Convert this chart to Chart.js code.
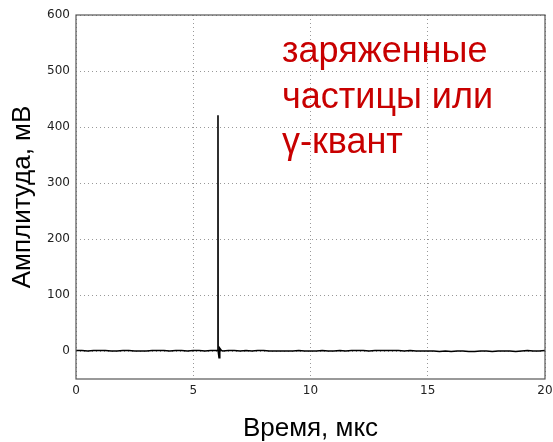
<!DOCTYPE html>
<html lang="ru">
<head>
<meta charset="utf-8">
<title>Амплитуда сигнала</title>
<script src="https://cdn.jsdelivr.net/npm/chart.js@4/dist/chart.umd.min.js"></script>
<style>
  html, body { margin: 0; padding: 0; background: #fff; }
  #wrap { position: relative; width: 553px; height: 442px; }
</style>
</head>
<body>
<div id="wrap"><canvas id="pulse"></canvas></div>
<script>
// Осциллограмма: время (мкс) и амплитуда (мВ)
const timeUs = [
  0, 0.25, 0.5, 0.75, 1, 1.25, 1.5, 1.75, 2, 2.25, 2.5, 2.75, 3, 3.25, 3.5, 3.75,
  4, 4.25, 4.5, 4.75, 5, 5.25, 5.5, 5.75, 6, 6.05, 6.055, 6.06, 6.1, 6.13, 6.2, 6.25,
  6.5, 6.75, 7, 7.25, 7.5, 7.75, 8, 8.25, 8.5, 8.75, 9, 9.25, 9.5, 9.75,
  10, 10.25, 10.5, 10.75, 11, 11.25, 11.5, 11.75, 12, 12.25, 12.5, 12.75,
  13, 13.25, 13.5, 13.75, 14, 14.25, 14.5, 14.75, 15, 15.25, 15.5, 15.75,
  16, 16.25, 16.5, 16.75, 17, 17.25, 17.5, 17.75, 18, 18.25, 18.5, 18.75,
  19, 19.25, 19.5, 19.75, 20
];
const amplitudeMv = [
  1, 1, 0, 1, 1, 1, 0, 0, 1, 1, 0, 0, 0, 1, 1, 1,
  0, 1, 1, 0, 1, 1, 0, 1, 1, 1, 421, 1, -12, 5, 1, 0,
  1, 1, 0, 1, 0, 1, 1, 0, 0, 0, 0, 0, 1, 0,
  0, 0, 1, 0, 0, 1, 0, 1, 1, 1, 0, 1,
  1, 1, 1, 1, 0, 1, 0, 0, 0, 0, -1, 0,
  -1, 0, 0, -1, -1, 0, 0, -1, 0, 0, 0, -1,
  0, 1, 0, 0, 1
];
const xTicks = [0, 5, 10, 15, 20];
const yTicks = [0, 100, 200, 300, 400, 500, 600];
const noteLines = ['заряженные', 'частицы или', 'γ-квант'];

// рамка вокруг области графика
const frame = {
  id: 'frame',
  afterDatasetsDraw(chart) {
    const {ctx, chartArea: a} = chart;
    ctx.save();
    ctx.strokeStyle = '#555';
    ctx.lineWidth = 1.2;
    ctx.strokeRect(a.left, a.top, a.right - a.left, a.bottom - a.top);
    ctx.restore();
  },
};

// красная подпись справа от импульса
const note = {
  id: 'note',
  afterDraw(chart) {
    const {ctx} = chart;
    ctx.save();
    ctx.fillStyle = '#c80000';
    ctx.font = '36px "Liberation Sans", Arial, sans-serif';
    ctx.textBaseline = 'alphabetic';
    noteLines.forEach((t, i) => ctx.fillText(t, 282, 62 + i * 45.5));
    ctx.restore();
  },
};

const tickFont = {family: '"DejaVu Sans", sans-serif', size: 12};
const titleFont = {family: '"Liberation Sans", Arial, sans-serif', size: 26};

new Chart(document.getElementById('pulse'), {
  type: 'line',
  data: {
    datasets: [{
      data: timeUs.map((t, i) => ({x: t, y: amplitudeMv[i]})),
      borderColor: '#000',
      borderWidth: 1.6,
      pointRadius: 0,
      tension: 0,
    }],
  },
  options: {
    responsive: true,
    maintainAspectRatio: false,
    animation: false,
    layout: {padding: {top: 15, right: 0, left: 0, bottom: 0}},
    plugins: {legend: {display: false}, tooltip: {enabled: false}},
    scales: {
      x: {
        type: 'linear',
        min: 0, max: 20,
        afterBuildTicks: (s) => { s.ticks = xTicks.map((v) => ({value: v})); },
        afterFit: (s) => { s.height = 63; s.paddingRight = 8; },
        grid: {color: '#999', lineWidth: 1, drawTicks: false},
        border: {display: false, dash: [1, 3]},
        ticks: {color: '#222', font: tickFont, padding: 5, maxRotation: 0},
        title: {display: true, text: 'Время, мкс', color: '#000', font: {...titleFont, lineHeight: 1}, padding: 0},
      },
      y: {
        type: 'linear',
        min: -50, max: 600,
        afterBuildTicks: (s) => { s.ticks = yTicks.map((v) => ({value: v})); },
        afterFit: (s) => { s.width = 76; },
        grid: {color: '#999', lineWidth: 1, drawTicks: false},
        border: {display: false, dash: [1, 3]},
        ticks: {color: '#222', font: tickFont, padding: 6},
        title: {display: true, text: 'Амплитуда, мВ', color: '#000', font: titleFont, padding: {top: 7}},
      },
    },
  },
  plugins: [frame, note],
});
</script>
</body>
</html>
